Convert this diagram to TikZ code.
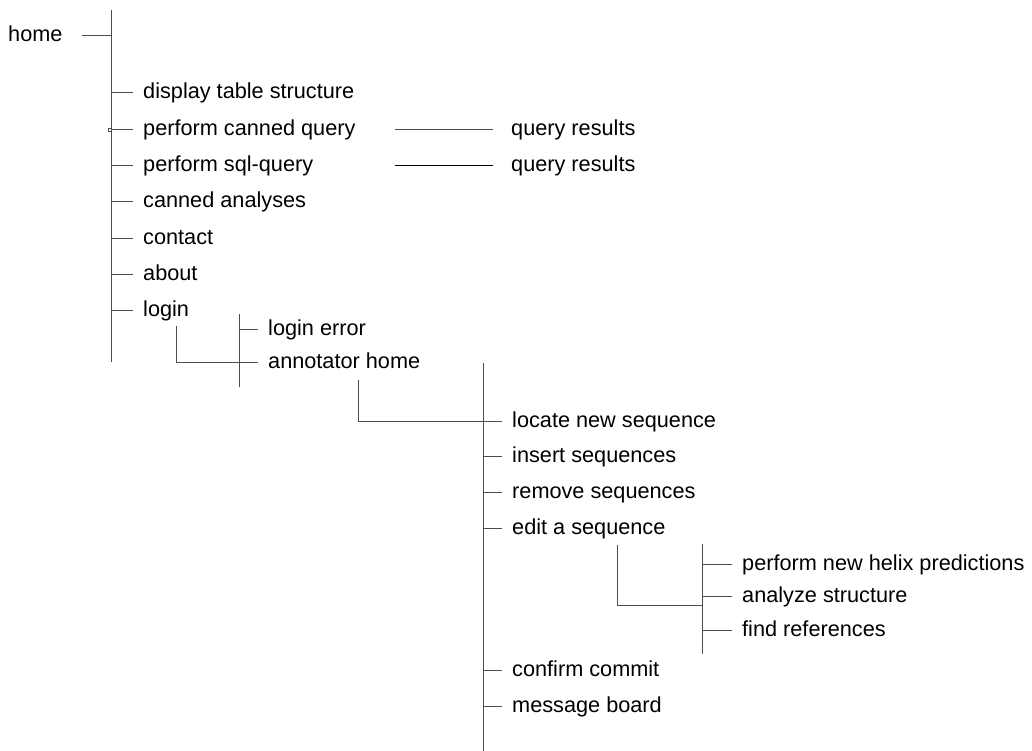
\documentclass[tikz,border=0pt]{standalone}
\usepackage{fontspec}
\setmainfont{Liberation Sans}
\begin{document}
\begin{tikzpicture}[x=1pt,y=-1pt,
  lbl/.style={anchor=west,inner sep=0pt,text height=12pt,text depth=0pt,font=\fontsize{21.7}{24}\selectfont},
  ln/.style={draw=black!70,line width=1pt}]
\useasboundingbox (0,0) rectangle (1032,751);
% level 0
\node[lbl] (home) at (8,36) {home};
\coordinate (b1t) at (111,10);
\coordinate (b1b) at (111,362);
\draw[ln] (b1t) -- (b1b);
\draw[ln] ([xshift=19pt]home.east) -- (home.east -| b1t);
% level 1
\node[lbl] (dts) at (143,93) {display table structure};
\node[lbl] (pcq) at (143,130) {perform canned query};
\node[lbl] (psq) at (143,166) {perform sql-query};
\node[lbl] (can) at (143,202) {canned analyses};
\node[lbl] (con) at (143,238) {contact};
\node[lbl] (abo) at (143,274) {about};
\node[lbl] (log) at (143,310) {login};
\foreach \n in {dts,pcq,psq,can,con,abo,log}
  \draw[ln] (\n.west -| b1t) -- ([xshift=-10pt]\n.west);
\draw[black!70,line width=0.6pt] (108,128.5) rectangle (111,131.5);
% query results
\node[lbl] (qr1) at (511,130) {query results};
\node[lbl] (qr2) at (511,166) {query results};
\draw[ln] ([xshift=-116pt]qr1.west) -- ([xshift=-18pt]qr1.west);
\draw[ln,draw=black] ([xshift=-116pt]qr2.west) -- ([xshift=-18pt]qr2.west);
% login branch
\coordinate (b2t) at (239,314);
\coordinate (b2b) at (239,387);
\draw[ln] (b2t) -- (b2b);
\node[lbl] (lerr) at (268,329) {login error};
\node[lbl] (ahom) at (268,362) {annotator home};
\foreach \n in {lerr,ahom}
  \draw[ln] (\n.west -| b2t) -- ([xshift=-10pt]\n.west);
\coordinate (e1) at (176,326);
\draw[ln] (e1) |- (ahom.west -| b2t);
% annotator branch
\coordinate (b3t) at (483,363);
\coordinate (b3b) at (483,751);
\draw[ln] (b3t) -- (b3b);
\node[lbl] (loc) at (512,421) {locate new sequence};
\node[lbl] (ins) at (512,456) {insert sequences};
\node[lbl] (rem) at (512,492) {remove sequences};
\node[lbl] (edi) at (512,528) {edit a sequence};
\node[lbl] (cnf) at (512,670) {confirm commit};
\node[lbl] (msg) at (512,706) {message board};
\foreach \n in {loc,ins,rem,edi,cnf,msg}
  \draw[ln] (\n.west -| b3t) -- ([xshift=-10pt]\n.west);
\coordinate (e2) at (358,380);
\draw[ln] (e2) |- (loc.west -| b3t);
% edit branch
\coordinate (b4t) at (702,544);
\coordinate (b4b) at (702,654);
\draw[ln] (b4t) -- (b4b);
\node[lbl] (hel) at (742,564) {perform new helix predictions};
\node[lbl] (ana) at (742,596) {analyze structure};
\node[lbl] (ref) at (742,630) {find references};
\foreach \n in {hel,ana,ref}
  \draw[ln] (\n.west -| b4t) -- ([xshift=-10pt]\n.west);
\coordinate (e3) at (617,545);
\coordinate (e3h) at (702,605);
\draw[ln] (e3) |- (e3h);
\end{tikzpicture}
\end{document}
